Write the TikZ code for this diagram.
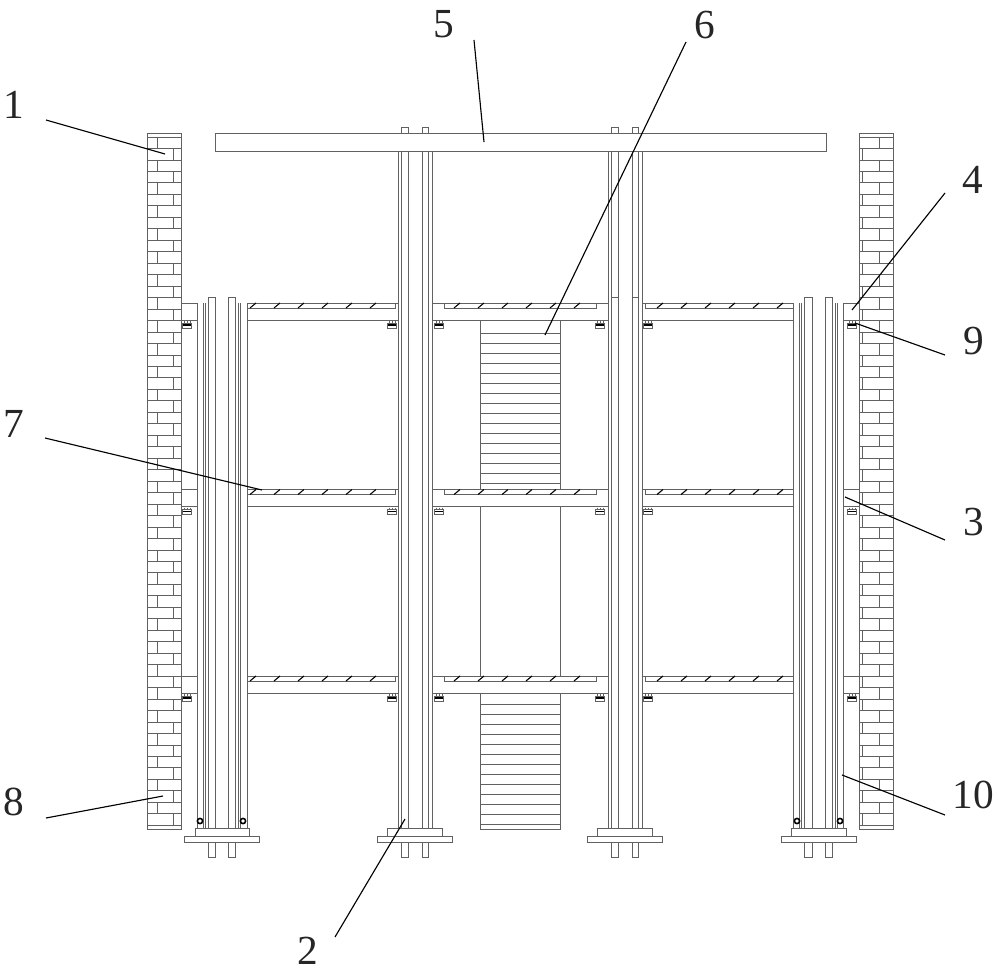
\documentclass[tikz,border=0pt]{standalone}
\usepackage{fontspec}
\setmainfont{Liberation Serif}
\tikzset{
  part/.style={draw=linegray,line width=0.72pt},
  thinpart/.style={draw=linegray,line width=0.6pt},
  tick/.style={draw=black,line width=0.8pt},
  leader/.style={draw=black,line width=0.85pt},
  numlabel/.style={font=\fontsize{31}{31}\selectfont,inner sep=0pt,text=black!85}
}
\definecolor{linegray}{gray}{0.38}
% wall: left x, x for even rows, x for odd rows
\newcommand{\brickwall}[3]{%
  \draw[part] (#1,133) rectangle (#1+34.5,829);
  \draw[thinpart] (#1,137) -- (#1+34.5,137);
  \foreach \k in {0,...,59}{
    \pgfmathsetmacro{\ya}{137+11.47*\k}
    \pgfmathsetmacro{\yb}{137+11.47*(\k+1)}
    \draw[thinpart] (#1,\yb) -- (#1+34.5,\yb);
    \pgfmathparse{int(mod(\k,2))}
    \ifnum\pgfmathresult=0 \draw[thinpart] (#2,\ya) -- (#2,\yb);
    \else \draw[thinpart] (#3,\ya) -- (#3,\yb); \fi
  }}
% small hanger bracket under a level
\newcommand{\hanger}[2]{%
  \draw[thinpart] (#1-4.5,#2+2) rectangle (#1+4.5,#2+7);
  \draw[draw=black,line width=1.3pt] (#1-4,#2+4) -- (#1+4,#2+4);
  \draw[thinpart] (#1-3,#2) -- (#1-3,#2+2) (#1,#2) -- (#1,#2+2) (#1+3,#2) -- (#1+3,#2+2);}
% base plates: upper x1 x2, lower x1 x2
\newcommand{\footing}[4]{%
  \draw[part,fill=white] (#1,828) rectangle (#2,836);
  \draw[part,fill=white] (#3,836) rectangle (#4,842.5);}
% bay: x1 x2 plate-x1 plate-x2 y first-tick
\newcommand{\bay}[6]{%
  \draw[part] (#1,#5) -- (#2,#5);
  \draw[part] (#3,#5) -- (#3,#5+5) -- (#4,#5+5) -- (#4,#5);
  \draw[part] (#1,#5+17) -- (#2,#5+17);
  \foreach \n in {0,...,5}{
    \pgfmathsetmacro{\tx}{#6+24*\n}
    \draw[tick] (\tx-3,#5+5) -- (\tx+3,#5);}}
\begin{document}
\begin{tikzpicture}[x=0.75pt,y=-0.75pt]
\useasboundingbox (0,0) rectangle (1000,972);
\fill[white] (0,0) rectangle (1000,972);

% walls
\brickwall{147}{157}{173}
\brickwall{859}{879}{862}

% staircase panel
\foreach \y in {333,343,...,483,704,714,...,824}{
  \draw[thinpart] (480.5,\y) -- (560,\y);}
\draw[part] (480.5,320) -- (480.5,489.5) (560,320) -- (560,489.5);
\draw[part] (480.5,506.5) -- (480.5,676) (560,506.5) -- (560,676);
\draw[part] (480.5,692.5) -- (480.5,829) -- (560,829) -- (560,692.5);

% levels
\foreach \y in {303,489.5,676}{
  \bay{247}{398}{247}{395}{\y}{253}
  \bay{432}{608}{444}{596}{\y}{457}
  \bay{642}{793}{645}{793}{\y}{660}
  \draw[part] (181.5,\y) -- (197,\y) (181.5,\y+17) -- (197,\y+17);
  \draw[part] (843,\y) -- (859,\y) (843,\y+17) -- (859,\y+17);
  \foreach \hx in {187,392,439,600,648,852}{
    \hanger{\hx}{\y+18}}
}

% tall columns
\foreach \dx in {0,210}{
  \foreach \cx in {398,401.7,408.3,422,428.5,432}{
    \draw[part] (\cx+\dx,151) -- (\cx+\dx,828);}
  \draw[part] (401.7+\dx,134) -- (401.7+\dx,127) -- (408.3+\dx,127) -- (408.3+\dx,134);
  \draw[part] (422+\dx,134) -- (422+\dx,127) -- (428.7+\dx,127) -- (428.7+\dx,134);
  \draw[part] (401.7+\dx,842) -- (401.7+\dx,857) -- (408.3+\dx,857) -- (408.3+\dx,842);
  \draw[part] (422+\dx,842) -- (422+\dx,857) -- (428.7+\dx,857) -- (428.7+\dx,842);
  \footing{387.7+\dx}{442.3+\dx}{377.7+\dx}{452.3+\dx}
}
\draw[part] (611.7,297) -- (618.3,297) (632,297) -- (638.5,297);
% top beam
\draw[part] (215,133.5) rectangle (826,151);

% left short column
\foreach \cx in {197,203,205,208,215,228,235,238,240.5,247}{
  \draw[part] (\cx,303) -- (\cx,828);}
\draw[part] (208,303) -- (208,297) -- (215,297) -- (215,303);
\draw[part] (228,303) -- (228,297) -- (235,297) -- (235,303);
\draw[part] (208,842) -- (208,857) -- (215,857) -- (215,842);
\draw[part] (228,842) -- (228,857) -- (235,857) -- (235,842);
\footing{195}{249}{184}{259}
\foreach \cx in {200,243}{
  \draw[draw=black,line width=1.2pt,fill=white] (\cx,821) circle (2.6);}

% right short column
\foreach \cx in {793,799,801.5,804,812,825,832,835,837.5,843}{
  \draw[part] (\cx,303) -- (\cx,828);}
\draw[part] (804,303) -- (804,297) -- (812,297) -- (812,303);
\draw[part] (825,303) -- (825,297) -- (832,297) -- (832,303);
\draw[part] (804,842) -- (804,857) -- (812,857) -- (812,842);
\draw[part] (825,842) -- (825,857) -- (832,857) -- (832,842);
\footing{791}{846}{781}{856}
\foreach \cx in {797,840}{
  \draw[draw=black,line width=1.2pt,fill=white] (\cx,821) circle (2.6);}

% labels
\node[numlabel] (n1) at (14,105) {1};
\node[numlabel] (n2) at (308,951) {2};
\node[numlabel] (n3) at (974,522) {3};
\node[numlabel] (n4) at (973,180) {4};
\node[numlabel] (n5) at (444,24) {5};
\node[numlabel] (n6) at (705,25) {6};
\node[numlabel] (n7) at (14,424) {7};
\node[numlabel] (n8) at (14,802) {8};
\node[numlabel] (n9) at (974,341) {9};
\node[numlabel] (n10) at (973,795) {10};

% leader ends
\coordinate (a1) at (46,120);   \coordinate (b1) at (165,154);
\coordinate (a2) at (335,937);  \coordinate (b2) at (405,819);
\coordinate (a3) at (945,540);  \coordinate (b3) at (845,497);
\coordinate (a4) at (945,193);  \coordinate (b4) at (852,310);
\coordinate (a5) at (474,40);   \coordinate (b5) at (484,142);
\coordinate (a6) at (686,42);   \coordinate (b6) at (545,335);
\coordinate (a7) at (45,438);   \coordinate (b7) at (262,490);
\coordinate (a8) at (46,818);   \coordinate (b8) at (163,796);
\coordinate (a9) at (945,355);  \coordinate (b9) at (855,323);
\coordinate (a10) at (945,815); \coordinate (b10) at (842,775);
\foreach \i in {1,...,10}{
  \draw[leader] (a\i) -- (b\i);}
\end{tikzpicture}
\end{document}
